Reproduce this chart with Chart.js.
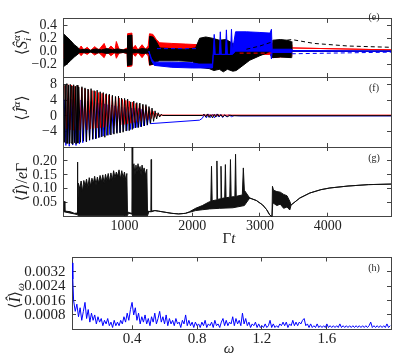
<!DOCTYPE html>
<html>
<head>
<meta charset="utf-8">
<script src="https://cdn.jsdelivr.net/npm/chart.js@4.4.1/dist/chart.umd.min.js"></script>
<style>
  body { margin: 0; background: #fff; }
  #fig { position: relative; width: 399px; height: 359px; }
  #fig canvas { position: absolute; left: 0; top: 0; }
</style>
</head>
<body>
<div id="fig">
  <canvas id="cE" width="399" height="359"></canvas>
  <canvas id="cF" width="399" height="359"></canvas>
  <canvas id="cG" width="399" height="359"></canvas>
  <canvas id="cH" width="399" height="359"></canvas>
</div>
<script>
// ---- axis ticks ----
var timeTicks = [1000, 2000, 3000, 4000];
var timeLabels = ['1000', '2000', '3000', '4000'];
var eTicks = [-0.2, 0.0, 0.2, 0.4];
var eLabels = ['\u22120.2', '0.0', '0.2', '0.4'];
var fTicks = [-4, 0, 4, 8];
var fLabels = ['\u22124', '0', '4', '8'];
var gTicks = [0.05, 0.10, 0.15, 0.20];
var gLabels = ['0.05', '0.10', '0.15', '0.20'];
var omegaTicks = [0.4, 0.8, 1.2, 1.6];
var omegaLabels = ['0.4', '0.8', '1.2', '1.6'];
var hTicks = [0.0008, 0.0016, 0.0024, 0.0032];
var hLabels = ['0.0008', '0.0016', '0.0024', '0.0032'];

// ---- panel (e): envelopes of the spin components [t, value] ----
var eBlackTop = [[100,0.27],[150,0.22],[200,0.17],[260,0.1],[320,0.05],[340,0.02],[420,0.03],[500,0.015],[580,0.035],[660,0.02],[740,0.04],[820,0.02],[900,0.035],[980,0.02],[1040,0.03],[1045,0.24],[1110,0.25],[1115,0.03],[1180,0.02],[1260,0.04],[1340,0.03],[1365,0.05],[1370,0.23],[1420,0.22],[1470,0.15],[1520,0.05],[1700,0.04],[1900,0.03],[2050,0.05],[2110,0.2],[2200,0.22],[2300,0.2],[2400,0.17],[2500,0.18],[2600,0.12],[2700,0.06],[2850,0.04],[3000,0.03],[3145,0.02],[3185,0.03],[3190,0.17],[3300,0.18],[3400,0.17],[3460,0.15],[3470,0.0],[4935,0.0]];
var eBlackBot = [[100,-0.24],[150,-0.2],[200,-0.15],[260,-0.09],[320,-0.04],[340,-0.02],[420,-0.025],[500,-0.015],[580,-0.03],[660,-0.02],[740,-0.035],[820,-0.02],[900,-0.03],[980,-0.02],[1040,-0.03],[1045,-0.22],[1110,-0.21],[1115,-0.03],[1180,-0.02],[1260,-0.035],[1340,-0.03],[1365,-0.04],[1370,-0.21],[1430,-0.2],[1480,-0.16],[1520,-0.15],[1800,-0.15],[2000,-0.16],[2100,-0.25],[2250,-0.27],[2320,-0.3],[2400,-0.28],[2460,-0.32],[2520,-0.28],[2600,-0.31],[2650,-0.3],[2750,-0.22],[2850,-0.14],[3000,-0.07],[3145,-0.01],[3185,-0.02],[3190,-0.1],[3300,-0.09],[3460,-0.1],[3470,0.0],[4935,0.0]];
var eRedTop = [[100,0.1],[250,0.06],[330,0.03],[360,0.08],[400,0.02],[450,0.06],[500,0.01],[560,0.07],[620,0.02],[700,0.12],[740,0.01],[800,0.08],[860,0.02],[880,0.15],[920,0.03],[980,0.02],[1040,0.05],[1045,0.27],[1110,0.28],[1118,0.04],[1160,0.09],[1200,0.02],[1260,0.1],[1310,0.03],[1350,0.08],[1370,0.27],[1420,0.26],[1470,0.18],[1520,0.13],[1700,0.12],[1900,0.11],[2100,0.1],[2300,0.07],[2600,0.05],[3145,0.05],[3190,0.13],[3300,0.12],[3460,0.1],[3470,0.05],[4935,0.02]];
var eRedBot = [[100,-0.1],[250,-0.06],[330,-0.03],[360,-0.07],[400,-0.02],[450,-0.05],[500,-0.01],[560,-0.06],[620,-0.02],[700,-0.1],[740,-0.01],[800,-0.07],[860,-0.02],[880,-0.11],[920,-0.03],[980,-0.02],[1040,-0.04],[1045,-0.24],[1110,-0.23],[1118,-0.03],[1160,-0.08],[1200,-0.02],[1260,-0.1],[1310,-0.03],[1350,-0.07],[1370,-0.22],[1430,-0.2],[1480,-0.05],[1520,0.03],[1700,0.04],[2100,0.03],[2150,-0.05],[2600,-0.05],[3145,-0.05],[3190,-0.1],[3300,-0.09],[3460,-0.08],[3470,0.05],[4935,0.02]];
var eBlueTop = [[1360,0.0],[1400,-0.12],[1440,-0.17],[1700,-0.17],[2000,-0.18],[2100,-0.2],[2300,-0.2],[2310,-0.05],[2325,0.26],[2340,-0.05],[2400,-0.05],[2415,0.3],[2430,-0.05],[2490,-0.05],[2505,0.33],[2520,-0.05],[2565,-0.05],[2580,0.34],[2595,0.0],[2640,0.3],[2800,0.3],[3000,0.29],[3150,0.28],[3170,0.34],[3180,0.03],[3460,0.03],[3470,0.01],[4935,0.0]];
var eBlueBot = [[1360,0.0],[1400,-0.15],[1440,-0.22],[1700,-0.25],[2000,-0.26],[2100,-0.26],[2300,-0.26],[2310,-0.05],[2595,-0.05],[2640,0.0],[3150,0.0],[3170,-0.12],[3180,-0.02],[3460,-0.02],[3470,0.0],[4935,0.0]];
var eBlackDash = [[2800,0.03],[3000,0.08],[3170,0.14],[3470,0.18],[3800,0.12],[4300,0.08],[4935,0.06]];
var eRedDash = [[2700,-0.03],[3170,-0.03]];
var eBlueDash = [[1480,0.04],[2100,0.04],[2200,null],[3470,-0.04],[4935,-0.015]];

// ---- panel (f): current components [t, value] ----
var fBlack = [[100,8.2],[112,-6.8],[125,8.0],[137,-7.0],[150,8.3],[162,-7.1],[175,7.9],[187,-7.2],[200,8.1],[212,-7.0],[225,7.7],[237,-7.3],[250,8.0],[262,-6.9],[275,7.6],[287,-7.2],[300,7.9],[312,-7.0],[325,7.4],[350,-6.8],[372,7.5],[395,-6.5],[417,7.2],[440,-6.7],[462,6.9],[485,-6.2],[507,7.0],[530,-6.0],[552,6.5],[575,-5.9],[597,6.6],[620,-5.6],[642,6.2],[665,-5.4],[687,6.0],[710,-5.5],[732,5.7],[755,-5.0],[777,5.6],[800,-4.9],[822,5.3],[845,-4.7],[867,5.0],[890,-4.5],[912,5.1],[935,-4.4],[957,4.6],[980,-4.2],[1002,4.5],[1025,-3.9],[1047,4.3],[1070,-3.8],[1092,3.6],[1115,-3.5],[1137,3.8],[1160,-3.1],[1182,3.4],[1205,-3.0],[1227,3.3],[1250,-2.8],[1272,3.0],[1295,-2.6],[1317,2.9],[1340,-2.3],[1362,2.4],[1385,-1.9],[1407,2.0],[1430,-1.4],[1452,1.3],[1475,-0.8],[1497,0.8],[1520,-0.3],[1542,0.4],[1565,0.1],[2150,0.1],[2175,0.4],[2200,-0.3],[2225,0.5],[2250,-0.4],[2275,0.3],[2300,-0.5],[2325,0.4],[2350,-0.3],[2375,0.5],[2400,-0.2],[2425,0.3],[2450,-0.3],[2480,0.2],[2520,-0.2],[2560,0.15],[2600,0.05],[4935,0.05]];
var fRed = [[120,7.8],[145,-3.3],[170,8.0],[195,-3.6],[220,7.9],[245,-3.7],[270,7.6],[295,-3.6],[320,7.5],[345,-3.7],[370,7.2],[395,-3.5],[420,6.9],[445,-3.6],[470,6.7],[495,-3.3],[520,6.5],[545,-3.2],[570,6.3],[595,-3.1],[620,6.0],[645,-3.0],[670,5.8],[695,-2.9],[720,5.5],[745,-2.8],[770,5.3],[795,-2.6],[820,5.0],[845,-2.5],[870,4.8],[895,-2.4],[920,4.6],[945,-2.3],[970,4.2],[995,-2.2],[1020,4.0],[1045,-2.0],[1070,3.8],[1095,-1.9],[1120,3.5],[1145,-1.7],[1170,3.2],[1195,-1.6],[1220,3.0],[1245,-1.4],[1270,2.7],[1295,-1.3],[1320,2.4],[1345,-1.0],[1370,1.9],[1395,-0.7],[1420,1.2],[1445,-0.4],[1470,0.6],[1500,0.2],[4935,0.2]];
var fBlue = [[110,4.2],[135,-7.6],[160,4.4],[185,-7.8],[210,4.3],[235,-7.5],[260,4.2],[285,-7.6],[310,4.3],[335,-7.2],[360,4.1],[385,-6.9],[410,4.0],[435,-6.6],[460,3.8],[485,-6.3],[510,3.7],[535,-6.0],[560,3.5],[585,-5.8],[610,3.4],[635,-5.5],[660,3.2],[685,-5.2],[710,3.1],[735,-5.0],[760,2.9],[785,-4.8],[810,2.8],[835,-4.5],[860,2.6],[885,-4.3],[910,2.5],[935,-4.1],[960,2.3],[985,-3.9],[1010,2.2],[1035,-3.8],[1060,2.2],[1085,-3.5],[1110,2.0],[1135,-3.2],[1160,2.0],[1185,-3.0],[1210,1.9],[1235,-2.8],[1260,1.7],[1285,-2.6],[1310,1.5],[1335,-2.4],[1360,1.3],[1380,-2.0],[2109,-1.1],[2150,-0.6],[2180,0.4],[2210,-0.5],[2240,0.5],[2270,-0.4],[2300,0.4],[2330,-0.5],[2360,0.5],[2390,-0.3],[2420,0.4],[2450,-0.4],[2480,0.3],[2510,-0.3],[2540,0.3],[2580,-0.2],[2620,0.1],[2700,0.0],[4935,0.0]];

// ---- panel (g): current envelope [t, value] ----
var gTop = [[100,0.02],[110,0.055],[120,0.02],[200,0.018],[260,0.012],[300,0.013],[305,0.196],[312,0.013],[320,0.12],[340,0.10],[360,0.128],[380,0.09],[400,0.13],[420,0.11],[440,0.135],[460,0.105],[480,0.14],[500,0.11],[520,0.138],[540,0.12],[560,0.145],[580,0.115],[600,0.142],[620,0.12],[640,0.148],[660,0.125],[680,0.15],[700,0.12],[720,0.152],[740,0.13],[760,0.155],[780,0.125],[800,0.157],[820,0.13],[840,0.165],[860,0.14],[880,0.16],[900,0.145],[920,0.168],[940,0.135],[960,0.165],[980,0.14],[1000,0.16],[1020,0.13],[1035,0.155],[1044,0.02],[1060,0.015],[1110,0.012],[1114,0.26],[1118,0.015],[1125,0.17],[1140,0.19],[1155,0.15],[1170,0.185],[1185,0.16],[1200,0.19],[1215,0.165],[1230,0.18],[1245,0.15],[1260,0.185],[1275,0.16],[1290,0.175],[1310,0.15],[1330,0.17],[1340,0.02],[1390,0.018],[1395,0.205],[1400,0.02],[1450,0.022],[1500,0.02],[1600,0.016],[1700,0.012],[1800,0.01],[1900,0.012],[1962,0.018],[2050,0.03],[2150,0.04],[2257,0.054],[2275,0.055],[2285,0.181],[2295,0.057],[2355,0.06],[2365,0.2],[2375,0.062],[2415,0.064],[2425,0.181],[2435,0.065],[2480,0.068],[2490,0.187],[2500,0.068],[2555,0.07],[2565,0.205],[2575,0.071],[2630,0.072],[2640,0.224],[2650,0.073],[2740,0.078],[2755,0.175],[2770,0.095],[2849,0.067],[2948,0.058],[3041,0.042],[3100,0.025],[3145,0.006],[3178,0.0],[3185,0.109],[3200,0.095],[3250,0.09],[3300,0.088],[3350,0.08],[3400,0.075],[3441,0.055],[3460,0.042],[3589,0.067],[3737,0.085],[3900,0.097],[4033,0.103],[4300,0.11],[4600,0.115],[4935,0.117]];
var gBot = [[100,0.018],[300,0.008],[320,0.003],[1040,0.003],[1060,0.012],[1110,0.01],[1120,0.003],[1340,0.003],[1360,0.018],[1400,0.018],[1450,0.022],[1500,0.02],[1600,0.016],[1700,0.012],[1800,0.01],[1900,0.012],[1962,0.016],[2050,0.022],[2150,0.025],[2257,0.028],[2400,0.03],[2600,0.032],[2770,0.04],[2849,0.067],[2948,0.058],[3041,0.042],[3100,0.025],[3145,0.006],[3178,0.0],[3190,0.05],[3250,0.04],[3300,0.045],[3350,0.03],[3400,0.035],[3441,0.024],[3460,0.042],[3589,0.067],[3737,0.085],[3900,0.097],[4033,0.103],[4300,0.11],[4600,0.115],[4935,0.117]];

// ---- panel (h): spectrum ----
var hOmega = [
  0.031,0.035,0.04,0.05,0.06,0.07,0.08,0.09,0.10,0.11,0.12,
  0.13,0.14,0.15,0.16,0.17,0.18,0.19,0.20,0.21,0.22,
  0.23,0.24,0.25,0.26,0.27,0.28,0.29,0.30,0.31,0.32,
  0.33,0.34,0.35,0.36,0.37,0.38,0.39,0.40,0.41,0.42,
  0.43,0.44,0.45,0.46,0.47,0.48,0.49,0.50,0.51,0.52,
  0.53,0.54,0.55,0.56,0.57,0.58,0.59,0.60,0.61,0.62,
  0.63,0.64,0.65,0.66,0.67,0.68,0.69,0.70,0.71,0.72,
  0.73,0.74,0.75,0.76,0.77,0.78,0.79,0.80,0.81,0.82,
  0.83,0.84,0.85,0.86,0.87,0.88,0.89,0.90,0.91,0.92,
  0.93,0.94,0.95,0.96,0.97,0.98,0.99,1.00,1.01,1.02,
  1.03,1.04,1.05,1.06,1.07,1.08,1.09,1.10,1.11,1.12,
  1.13,1.14,1.15,1.16,1.17,1.18,1.19,1.20,1.21,1.22,
  1.23,1.24,1.25,1.26,1.27,1.28,1.29,1.30,1.31,1.32,
  1.33,1.34,1.35,1.36,1.37,1.38,1.39,1.40,1.41,1.42,
  1.43,1.44,1.45,1.46,1.47,1.48,1.49,1.50,1.51,1.52,
  1.53,1.54,1.55,1.56,1.57,1.58,1.59,1.60,1.61,1.62,
  1.63,1.64,1.65,1.66,1.67,1.68,1.69,1.70,1.71,1.72,
  1.73,1.74,1.75,1.76,1.77,1.78,1.79,1.80,1.81,1.82,
  1.83,1.84,1.85,1.86,1.87,1.88,1.89,1.90,1.91,1.92,
  1.93,1.94,1.95,1.96,1.97,1.98,1.99];
var hSpec = [
  0.0037,0.0028,0.0016,0.0010,0.0014,0.0007,0.0012,0.0005,0.0010,0.0015,0.0006,
  0.0011,0.0004,0.0009,0.0005,0.0008,0.0003,0.0007,0.0004,0.0006,0.0002,
  0.0005,0.0003,0.0006,0.0002,0.0004,0.0001,0.0005,0.0002,0.0004,0.0002,
  0.0005,0.0003,0.0007,0.0004,0.0009,0.0005,0.0011,0.0015,0.0008,0.0012,
  0.0005,0.0009,0.0003,0.0007,0.0004,0.0008,0.0003,0.0006,0.0002,0.0007,
  0.0004,0.0009,0.0003,0.0006,0.0010,0.0004,0.0007,0.0003,0.0008,0.0002,
  0.0006,0.0003,0.0005,0.0002,0.0006,0.0003,0.0004,0.0001,0.0005,0.0003,
  0.0008,0.0002,0.0005,0.0002,0.0004,0.0001,0.0004,0.0002,0.0003,0.0001,
  0.0004,0.0002,0.0005,0.0001,0.0003,0.0002,0.0004,0.0001,0.0005,0.0002,
  0.0003,0.0001,0.0004,0.0006,0.0002,0.0005,0.0002,0.0004,0.0003,0.0007,
  0.0002,0.0006,0.0003,0.0005,0.0002,0.0009,0.0003,0.0006,0.0002,0.0004,
  0.0001,0.0003,0.0002,0.0004,0.0001,0.0003,0.0001,0.0002,0.0001,0.0003,
  0.0001,0.0002,0.0005,0.0001,0.0003,0.0001,0.0002,0.0001,0.0003,0.0002,
  0.0004,0.0002,0.0004,0.0001,0.0003,0.0002,0.0005,0.0002,0.0004,0.0002,
  0.0004,0.0003,0.0005,0.0006,0.0002,0.0003,0.0001,0.0003,0.0001,0.0002,
  0.0001,0.0003,0.0001,0.0002,0.0001,0.0002,0.0001,0.0003,0.0001,0.0002,
  0.0001,0.0002,0.0001,0.0002,0.0001,0.0003,0.0001,0.0002,0.0001,0.0002,
  0.0001,0.0002,0.0001,0.0002,0.0001,0.0002,0.0001,0.0002,0.0001,0.0002,
  0.0001,0.0002,0.0001,0.0002,0.0004,0.0001,0.0002,0.0001,0.0002,0.0001,
  0.0002,0.0001,0.0002,0.0001,0.0003,0.0001,0.0002];

var BLACK = '#000000', RED = '#ff0000', BLUE = '#0000ff';
var SERIF = '"Liberation Serif", "DejaVu Serif", serif';

function pts(a) {
  return a.map(function (p) { return { x: p[0], y: p[1] }; });
}

function line(data, color, extra) {
  var d = { data: data, borderColor: color, backgroundColor: color, borderWidth: 1,
            pointRadius: 0, tension: 0, fill: false };
  for (var k in extra) d[k] = extra[k];
  return d;
}

// draw a string made of roman / italic / sub / sup pieces, centred on (x, y)
function drawParts(ctx, parts, size, x, y, rot) {
  ctx.save();
  ctx.translate(x, y);
  ctx.rotate(rot || 0);
  ctx.fillStyle = '#222';
  ctx.textBaseline = 'alphabetic';
  function fontOf(p) {
    var s = (p.sub || p.sup) ? size * 0.7 : size;
    return (p.it ? 'italic ' : '') + s + 'px ' + SERIF;
  }
  var w = 0;
  parts.forEach(function (p) {
    ctx.font = fontOf(p);
    p.w = ctx.measureText(p.t).width;
    if (!p.hold) w += p.w;
  });
  var cx = -w / 2;
  parts.forEach(function (p) {
    ctx.font = fontOf(p);
    var dy = p.sup ? -size * 0.4 : (p.sub ? size * 0.25 : 0);
    ctx.fillText(p.t, cx, size * 0.35 + dy);
    if (!p.hold) cx += p.w;
  });
  ctx.restore();
}

var mathText = {
  id: 'mathText',
  afterDraw: function (chart, args, opts) {
    (opts.items || []).forEach(function (it) {
      drawParts(chart.ctx, it.parts, it.size, it.x, it.y, it.rot);
    });
  }
};

// four framed axes with inward ticks, like the original
function axes(o) {
  var tickFont = { family: SERIF, size: o.fontSize };
  function fixed(list) {
    return function (s) { s.ticks = list.map(function (v) { return { value: v }; }); };
  }
  function label(list, labels) {
    return function (v) { var i = list.indexOf(v); return i < 0 ? '' : labels[i]; };
  }
  var grid = { drawOnChartArea: false, tickLength: -4, color: '#444', lineWidth: 1 };
  var border = { display: true, color: '#444', width: 1 };
  return {
    x: { type: 'linear', position: 'bottom', min: o.xMin, max: o.xMax, bounds: 'data',
         afterBuildTicks: fixed(o.xTicks), grid: grid, border: border,
         ticks: { display: !!o.xLabels, font: tickFont, color: '#222', padding: o.xPad || 5,
                  autoSkip: false, maxRotation: 0,
                  callback: o.xLabels ? label(o.xTicks, o.xLabels) : function () { return ''; } },
         afterFit: function (s) { s.height = o.xHeight || 0; } },
    x2: { type: 'linear', position: 'top', min: o.xMin, max: o.xMax, bounds: 'data',
          afterBuildTicks: fixed(o.xTicks), grid: grid, border: border,
          ticks: { display: false }, afterFit: function (s) { s.height = 0; } },
    y: { type: 'linear', position: 'left', min: o.yMin, max: o.yMax, bounds: 'data',
         afterBuildTicks: fixed(o.yTicks), grid: grid, border: border,
         ticks: { font: tickFont, color: '#222', padding: 10.5, autoSkip: false,
                  callback: label(o.yTicks, o.yLabels) },
         afterFit: function (s) { s.width = o.left; } },
    y2: { type: 'linear', position: 'right', min: o.yMin, max: o.yMax, bounds: 'data',
          afterBuildTicks: fixed(o.yTicks), grid: grid, border: border,
          ticks: { display: false }, afterFit: function (s) { s.width = 8; } }
  };
}

function make(id, datasets, ax, pad, items) {
  return new Chart(document.getElementById(id), {
    type: 'line',
    data: { datasets: datasets },
    options: {
      responsive: false, animation: false, devicePixelRatio: 1,
      layout: { padding: pad },
      plugins: { legend: { display: false }, tooltip: { enabled: false },
                 mathText: { items: items } },
      scales: ax
    },
    plugins: [mathText]
  });
}

// panel (e)
make('cE', [
  line(pts(eBlackDash), BLACK, { borderDash: [4, 3] }),
  line(pts(eRedDash), RED, { borderDash: [4, 3] }),
  line(pts(eBlueDash), BLUE, { borderDash: [4, 3] }),
  line(pts(eBlueTop), BLUE, { fill: '+1' }),
  line(pts(eBlueBot), BLUE),
  line(pts(eBlackTop), BLACK, { fill: '+1' }),
  line(pts(eBlackBot), BLACK),
  line(pts(eRedTop), RED, { fill: '+1' }),
  line(pts(eRedBot), RED)
], axes({ xMin: 100, xMax: 4935, xTicks: timeTicks, yMin: -0.4, yMax: 0.5,
          yTicks: eTicks, yLabels: eLabels, fontSize: 14, left: 63.5 }),
{ top: 6, bottom: 282, left: 0, right: 0 },
[{ parts: [{ t: '\u27E8' }, { t: '\u015C', it: 1 }, { t: 'i', it: 1, sub: 1, hold: 1 }, { t: '\u03B1', it: 1, sup: 1 }, { t: '\u27E9' }],
   size: 16, x: 21, y: 42, rot: -Math.PI / 2 },
 { parts: [{ t: '(e)' }], size: 10, x: 374, y: 16.5 }]);

// panel (f)
make('cF', [
  line(pts(fBlack), BLACK),
  line(pts(fRed), RED),
  line(pts(fBlue), BLUE)
], axes({ xMin: 100, xMax: 4935, xTicks: timeTicks, yMin: -8, yMax: 10,
          yTicks: fTicks, yLabels: fLabels, fontSize: 14, left: 63.5 }),
{ top: 77, bottom: 212, left: 0, right: 0 },
[{ parts: [{ t: '\u27E8' }, { t: '\u0134', it: 1 }, { t: '\u03B1', it: 1, sup: 1 }, { t: '\u27E9' }],
   size: 16, x: 21, y: 108, rot: -Math.PI / 2 },
 { parts: [{ t: '(f)' }], size: 10, x: 374, y: 87.5 }]);

// panel (g)
make('cG', [
  line(pts(gTop), '#111', { fill: '+1' }),
  line(pts(gBot), '#111')
], axes({ xMin: 100, xMax: 4935, xTicks: timeTicks, xLabels: timeLabels, xHeight: 31, xPad: 5,
          yMin: 0, yMax: 0.25, yTicks: gTicks, yLabels: gLabels, fontSize: 14, left: 63.5 }),
{ top: 147, bottom: 359 - 216.7 - 31, left: 0, right: 0 },
[{ parts: [{ t: '\u27E8' }, { t: '\u00CE', it: 1 }, { t: '\u27E9/' }, { t: 'e', it: 1 }, { t: '\u0393' }],
   size: 16, x: 21, y: 182, rot: -Math.PI / 2 },
 { parts: [{ t: '\u0393' }, { t: 't', it: 1 }], size: 15, x: 229, y: 238 },
 { parts: [{ t: '(g)' }], size: 10, x: 374, y: 157.5 }]);

// panel (h)
make('cH', [
  line(hOmega.map(function (w, i) { return { x: w, y: hSpec[i] }; }), BLUE)
], axes({ xMin: 0.03, xMax: 1.995, xTicks: omegaTicks, xLabels: omegaLabels, xHeight: 29, xPad: 5,
          yMin: 0, yMax: 0.004, yTicks: hTicks, yLabels: hLabels, fontSize: 15, left: 72 }),
{ top: 257.5, bottom: 359 - 329.3 - 29, left: 0, right: 0 },
[{ parts: [{ t: '\u27E8' }, { t: '\u00CE', it: 1 }, { t: '\u27E9' }, { t: '\u03C9', it: 1, sub: 1 }],
   size: 16, x: 14, y: 296, rot: -Math.PI / 2 },
 { parts: [{ t: '\u03C9', it: 1 }], size: 15, x: 229, y: 348 },
 { parts: [{ t: '(h)' }], size: 10, x: 374, y: 267 }]);
</script>
</body>
</html>
